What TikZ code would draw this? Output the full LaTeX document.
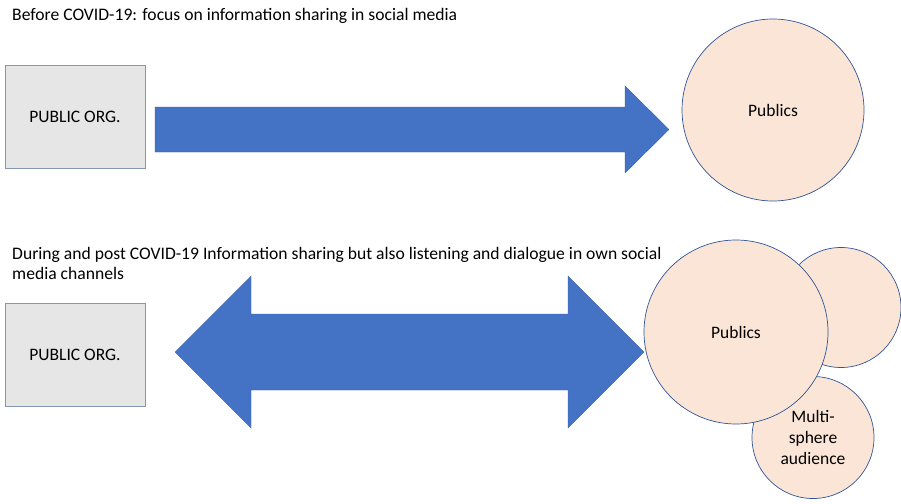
\documentclass[tikz,border=0pt]{standalone}
\usepackage{fontspec}
\setmainfont{Carlito}
\definecolor{boxfill}{HTML}{E7E6E6}
\definecolor{boxline}{HTML}{8497B0}
\definecolor{arrowblue}{HTML}{4472C4}
\definecolor{circfill}{HTML}{FBE5D6}
\definecolor{circline}{HTML}{2F5597}
\begin{document}
\begin{tikzpicture}[x=1pt,y=-1pt,
  orgbox/.style={draw=boxline,fill=boxfill,line width=0.8pt,minimum width=140pt,minimum height=103pt,inner sep=0pt,font=\fontsize{17.5}{21}\selectfont},
  pubcirc/.style={circle,draw=circline,fill=circfill,line width=0.7pt,inner sep=0pt,font=\fontsize{17.5}{21}\selectfont,align=center},
  bigarrow/.style={fill=arrowblue,draw=arrowblue!80!black,line width=0.3pt},
  titletext/.style={anchor=west,align=left,inner sep=0pt,font=\fontsize{17.6}{20}\selectfont}]
\useasboundingbox (0,0) rectangle (901,503);
% titles
\node[titletext] (t1) at (12,16) {Before COVID-19: focus on information sharing in social media};
\node[titletext] (t2) at (12,263) {During and post COVID-19 Information sharing but also listening and dialogue in own social\\media channels};
% top row
\node[orgbox] (org1) at (75,116.5) {PUBLIC ORG.};
\node[pubcirc,minimum size=182pt] (pub1) at (773,110) {Publics};
\fill[bigarrow] (155,107) -- (625,107) -- (625,86) -- (669,129.5) -- (625,173) -- (625,152) -- (155,152) -- cycle;
% bottom row
\node[orgbox] (org2) at (75,355) {PUBLIC ORG.};
\node[pubcirc,minimum size=120pt] (pub3) at (841,307.5) {};
\node[pubcirc,minimum size=122pt] (pub4) at (813,437.5) {Multi-\\sphere\\audience};
\node[pubcirc,minimum size=184pt] (pub2) at (736,332) {Publics};
\fill[bigarrow] (175,352) -- (251,276) -- (251,314) -- (568,314) -- (568,276) -- (644,352) -- (568,428) -- (568,390) -- (251,390) -- (251,428) -- cycle;
\end{tikzpicture}
\end{document}
